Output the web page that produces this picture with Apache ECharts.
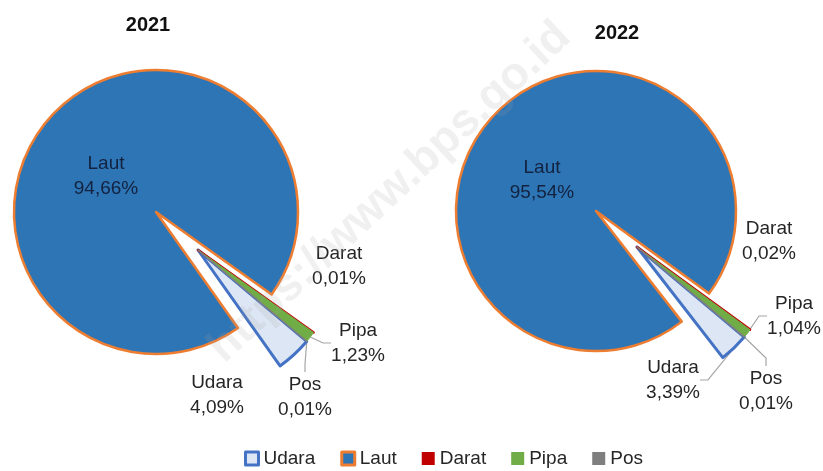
<!DOCTYPE html>
<html><head><meta charset="utf-8">
<script src="https://cdn.jsdelivr.net/npm/echarts@6/dist/echarts.min.js"></script>
<style>html,body{margin:0;padding:0;background:#fff}#c{width:823px;height:471px}</style>
</head><body><div id="c"></div>
<script>
// ---- data ----
const categories = ['Udara', 'Laut', 'Darat', 'Pipa', 'Pos'];
const years = ['2021', '2022'];
const values2021 = [4.09, 94.66, 0.01, 1.23, 0.01];
const values2022 = [3.39, 95.54, 0.02, 1.04, 0.01];
const valuesByYear = [values2021, values2022];

// ---- styles / layout ----
const FONT = "'Liberation Sans',Arial,sans-serif";
const styles = {
  Udara: { color: '#dde6f4', borderColor: '#4472c4', borderWidth: 3 },
  Laut:  { color: '#2e75b6', borderColor: '#ed7d31', borderWidth: 2.5 },
  Darat: { color: '#c00000', borderColor: '#c00000', borderWidth: 2.5 },
  Pipa:  { color: '#70ad47', borderColor: '#70ad47', borderWidth: 1 },
  Pos:   { color: '#7f7f7f', borderColor: '#7f7f7f', borderWidth: 1.5 }
};
const legendIcons = {
  Udara: { color: '#dde6f4', borderColor: '#4472c4', borderWidth: 3 },
  Laut:  { color: '#2e75b6', borderColor: '#ed7d31', borderWidth: 3 },
  Darat: { color: '#c00000', borderColor: '#c00000', borderWidth: 0 },
  Pipa:  { color: '#70ad47', borderColor: '#70ad47', borderWidth: 0 },
  Pos:   { color: '#7f7f7f', borderColor: '#7f7f7f', borderWidth: 0 }
};
const layouts = [
  { center: [156, 212], explode: [198, 250], radius: 142, title: [143, 10],
    labels: { Laut: [106, 176], Darat: [339, 266], Pipa: [358, 343], Pos: [305, 397], Udara: [217, 395] },
    lines: { Pipa: true, Pos: true } },
  { center: [596, 211], explode: [637, 247], radius: 140, title: [612, 18],
    labels: { Laut: [542, 180], Darat: [769, 241], Pipa: [794, 316], Pos: [766, 391], Udara: [673, 380] },
    lines: { Pipa: true, Pos: true, Udara: true } }
];
const START = -40;
const hidden = { color: 'rgba(0,0,0,0)', borderWidth: 0 };
const fmt = p => p.name + '\n' + p.value.toFixed(2).replace('.', ',') + '%';

const series = [];
years.forEach((yr, yi) => {
  const L = layouts[yi];
  const vals = valuesByYear[yi];
  const mkLayout = (params) => {
    const pos = L.labels[categories[params.dataIndex]];
    return { x: pos[0], y: pos[1], align: 'center', verticalAlign: 'middle' };
  };
  // main pie: Laut
  series.push({
    type: 'pie', name: yr, center: L.center, radius: L.radius, startAngle: START,
    animation: false, silent: true, avoidLabelOverlap: false,
    emphasis: { disabled: true },
    label: { show: true, position: 'inside', formatter: fmt, fontFamily: FONT, fontSize: 19, lineHeight: 25, color: '#13223f' },
    labelLine: { show: false },
    labelLayout: mkLayout,
    data: categories.map((n, i) => ({
      name: n, value: vals[i],
      itemStyle: n === 'Laut' ? styles.Laut : hidden,
      label: { show: n === 'Laut' }
    }))
  });
  // exploded pie: small slices
  series.push({
    type: 'pie', name: yr + ' ', center: L.explode, radius: L.radius, startAngle: START,
    animation: false, silent: true, avoidLabelOverlap: false,
    emphasis: { disabled: true },
    label: { show: true, position: 'outside', formatter: fmt, fontFamily: FONT, fontSize: 19, lineHeight: 25, color: '#262626' },
    labelLine: { show: true, length: 0, length2: 8, smooth: false, lineStyle: { color: '#a6a6a6', width: 1.2 } },
    labelLayout: mkLayout,
    data: categories.map((n, i) => ({
      name: n, value: vals[i],
      itemStyle: n === 'Laut' ? hidden : styles[n],
      label: { show: n !== 'Laut' },
      labelLine: { show: !!L.lines[n] }
    }))
  });
});

const chart = echarts.init(document.getElementById('c'), null, { renderer: 'canvas' });
chart.setOption({
  backgroundColor: '#ffffff',
  title: years.map((yr, yi) => ({
    text: yr, left: layouts[yi].title[0], top: layouts[yi].title[1], textAlign: 'center',
    textStyle: { fontFamily: FONT, fontWeight: 'bold', fontSize: 20, color: '#111' }
  })),
  legend: {
    top: 444, left: 239, icon: 'rect', itemWidth: 13, itemHeight: 13, itemGap: 25,
    selectedMode: true,
    textStyle: { fontFamily: FONT, fontSize: 19, color: '#262626' },
    data: categories.map(n => ({ name: n, itemStyle: legendIcons[n] }))
  },
  series: series,
  graphic: [{
    type: 'text', x: 200, y: 338, rotation: 43 * Math.PI / 180, z: 100, silent: true,
    style: { text: 'https://www.bps.go.id', font: "bold 46px 'Liberation Sans',Arial,sans-serif", fill: 'rgba(160,160,160,0.16)' }
  }]
});
</script></body></html>
